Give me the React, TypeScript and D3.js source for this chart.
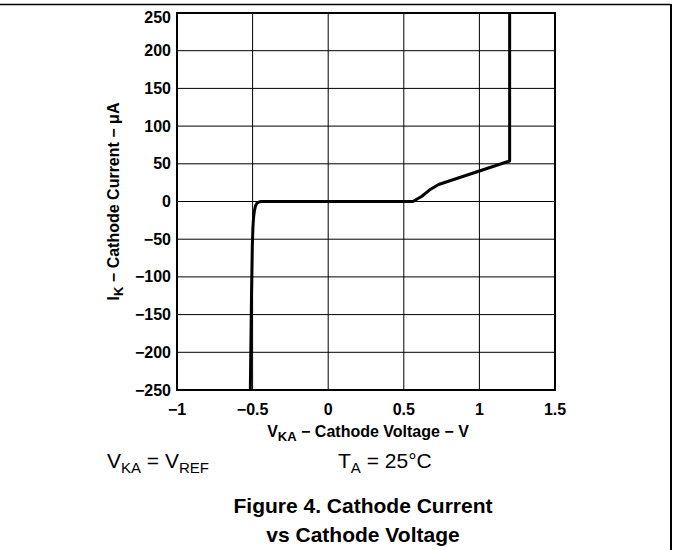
import * as d3 from 'd3'

const xTicks = [-1, -0.5, 0, 0.5, 1, 1.5]
const yTicks = [250, 200, 150, 100, 50, 0, -50, -100, -150, -200, -250]

// cathode voltage (V) / cathode current (µA)
const vka = [-0.515, -0.507, -0.502, -0.498, -0.494, -0.488, -0.481, -0.472, -0.46, -0.445, 0.56, 0.62, 0.675, 0.73, 1.2, 1.2]
const ik = [-250, -120, -60, -35, -22, -12, -6, -2.5, -0.8, 0, 0, 7, 16, 22.5, 53.7, 250]

const W = 673
const H = 550
const M = { left: 177, right: 555, top: 13, bottom: 390 }
const FONT = '"Liberation Sans", Arial, sans-serif'

const fmt = (v: number) => (v < 0 ? '\u2212' + Math.abs(v) : String(v))

export default function App() {
  const x = d3.scaleLinear().domain([-1, 1.5]).range([M.left, M.right])
  const y = d3.scaleLinear().domain([-250, 250]).range([M.bottom, M.top])

  const pts = vka.map((v, i) => [v, ik[i]] as [number, number])
  const line = d3.line<[number, number]>()
    .x(d => x(d[0]))
    .y(d => y(d[1]))
    .curve(d3.curveLinear)

  const cx = (M.left + M.right) / 2
  const cy = (M.top + M.bottom) / 2

  return (
    <svg width={W} height={H} style={{ position: 'absolute', left: 0, top: 0, background: '#fff' }}
      fontFamily={FONT}>
      {/* page rules */}
      <line x1={0} x2={671} y1={4.5} y2={4.5} stroke="#000" strokeWidth={1.5} />
      <line x1={671} x2={671} y1={4} y2={H} stroke="#000" strokeWidth={2} />

      {/* grid */}
      {xTicks.slice(1, -1).map(t => (
        <line key={'gx' + t} x1={x(t)} x2={x(t)} y1={M.top} y2={M.bottom} stroke="#000" strokeWidth={1} />
      ))}
      {yTicks.slice(1, -1).map(t => (
        <line key={'gy' + t} x1={M.left} x2={M.right} y1={y(t)} y2={y(t)} stroke="#000" strokeWidth={1} />
      ))}

      {/* trace */}
      <path d={line(pts) ?? ''} fill="none" stroke="#000" strokeWidth={3} strokeLinejoin="round" />

      {/* frame */}
      <rect x={M.left} y={M.top} width={M.right - M.left} height={M.bottom - M.top}
        fill="none" stroke="#000" strokeWidth={2} />

      {/* y tick labels */}
      {yTicks.map(t => (
        <text key={'ty' + t} x={M.left - 6} y={y(t) + (t === 250 ? 4 : 0)} textAnchor="end"
          dominantBaseline="central" fontSize={16} fontWeight="bold">{fmt(t)}</text>
      ))}
      {/* x tick labels */}
      {xTicks.map(t => (
        <text key={'tx' + t} x={x(t)} y={M.bottom + 25} textAnchor="middle"
          fontSize={16} fontWeight="bold">{fmt(t)}</text>
      ))}

      {/* axis titles */}
      <text x={cx + 2} y={437} textAnchor="middle" fontSize={16} fontWeight="bold">
        V<tspan fontSize={13} dy={4}>KA</tspan><tspan dy={-4}> {'\u2212'} Cathode Voltage {'\u2212'} V</tspan>
      </text>
      <text transform={`translate(119,${cy}) rotate(-90)`} textAnchor="middle" fontSize={16} fontWeight="bold">
        I<tspan fontSize={13} dy={4}>K</tspan><tspan dy={-4}> {'\u2212'} Cathode Current {'\u2212'} {'\u03bc'}A</tspan>
      </text>

      {/* conditions */}
      <text x={107} y={468} fontSize={21}>
        V<tspan fontSize={15} dy={5}>KA</tspan><tspan dy={-5}> = V</tspan><tspan fontSize={15} dy={5}>REF</tspan>
      </text>
      <text x={338} y={468} fontSize={21}>
        T<tspan fontSize={15} dy={5}>A</tspan><tspan dy={-5}> = 25°C</tspan>
      </text>

      {/* caption */}
      <text x={363} y={513} textAnchor="middle" fontSize={21} fontWeight="bold">Figure 4. Cathode Current</text>
      <text x={363} y={542} textAnchor="middle" fontSize={21} fontWeight="bold">vs Cathode Voltage</text>
    </svg>
  )
}
